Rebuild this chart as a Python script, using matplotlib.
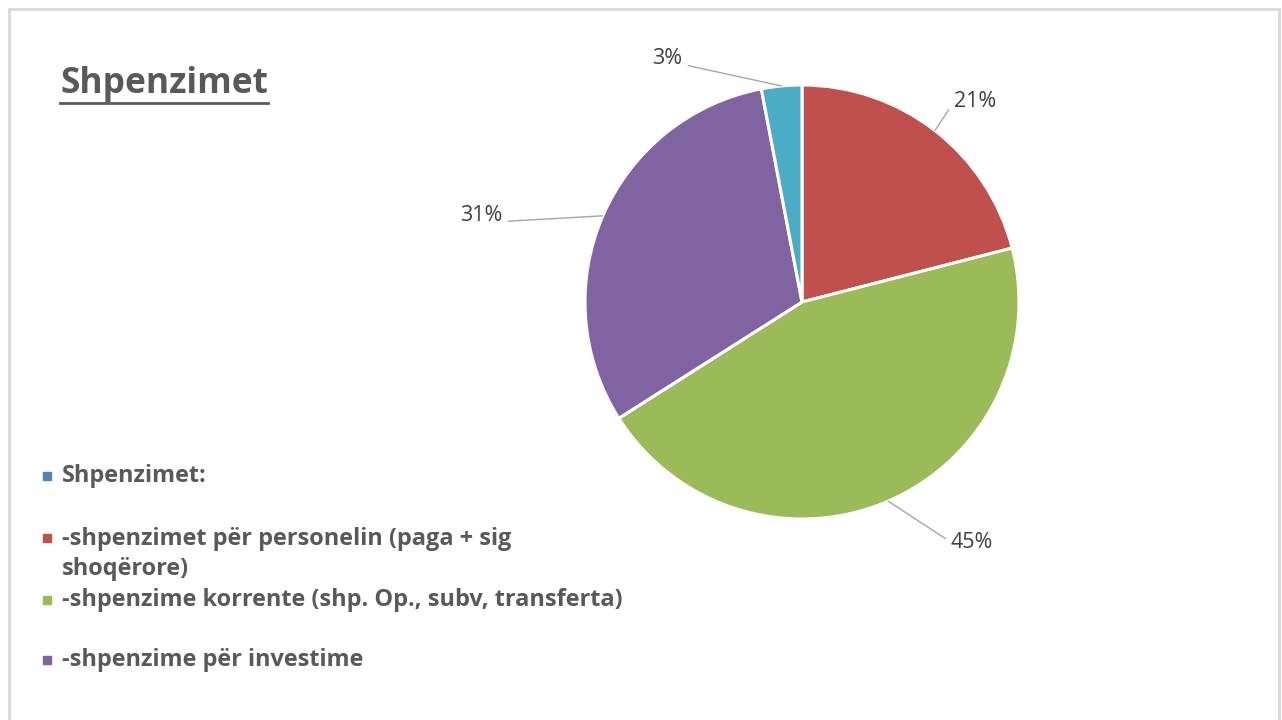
import numpy as np
import matplotlib.pyplot as plt
from matplotlib.patches import Rectangle

# data
categories = ["Shpenzimet:",
              "-shpenzimet për personelin (paga + sig\nshoqërore)",
              "-shpenzime korrente (shp. Op., subv, transferta)",
              "-shpenzime për investime",
              ""]
values = [0, 21, 45, 31, 3]
colors = ["#4F81BD", "#C0504D", "#9BBB59", "#8064A2", "#4BACC6"]
title = "Shpenzimet"

plt.rcParams['font.family'] = ['Open Sans', 'DejaVu Sans']

W, H = 1282, 720
fig = plt.figure(figsize=(W / 100, H / 100), dpi=100)

# light grey frame round the chart area
fig.patches.append(Rectangle((9 / W, -0.05), (1279 - 9) / W, (H - 9) / H + 0.05,
                             transform=fig.transFigure, fill=False,
                             edgecolor="#D9D9D9", linewidth=2))

# pie axes: pie spans x 585..1019, y 85..519 px
cx, cy, r = 802, 302, 217
ax = fig.add_axes([(cx - r) / W, (H - cy - r) / H, 2 * r / W, 2 * r / H])
wedges, _ = ax.pie(values[1:], colors=colors[1:], startangle=90, counterclock=False,
                   wedgeprops=dict(edgecolor="white", linewidth=2.2))
ax.set_xlim(-1, 1)
ax.set_ylim(-1, 1)
ax.set_aspect("equal")

# data labels with leader lines (text position in pie units)
label_pos = [(0.70, 0.922), (0.685, -1.106), (-1.38, 0.40), (-0.55, 1.124)]
label_ha = ["left", "left", "right", "right"]
for w, v, (tx, ty), ha in zip(wedges, values[1:], label_pos, label_ha):
    mid = np.deg2rad((w.theta1 + w.theta2) / 2)
    px, py = np.cos(mid), np.sin(mid)
    ang = np.degrees(np.arctan2(py - ty, px - tx))
    if abs(np.sin(np.deg2rad(ang))) < 0.3:
        conn = "arc3,rad=0"
    else:
        conn = f"angle,angleA=0,angleB={ang:.1f},rad=0"
    rel = (0, 0.2) if ha == "left" else (1, 0.2)
    ax.annotate(f"{v}%", xy=(px, py), xytext=(tx, ty), ha=ha, va="center",
                fontsize=15.5, color="#404040", annotation_clip=False,
                arrowprops=dict(arrowstyle="-", color="#A6A6A6", lw=1,
                                shrinkA=2, shrinkB=0, relpos=rel,
                                connectionstyle=conn))

# title
fig.text(60 / W, 1 - 84 / H, title, fontsize=25.5, fontweight="bold", color="#595959",
         ha="left", va="center")
fig.add_artist(plt.Line2D([60 / W, 268 / W], [1 - 103 / H, 1 - 103 / H],
                          color="#595959", lw=2))

# legend
leg_y = [476, 554, 600, 660]
for name, c, y in zip(categories[:4], colors[:4], leg_y):
    first_y = y if "\n" not in name else y - 16
    fig.patches.append(Rectangle((43 / W, 1 - (first_y + 4) / H), 8 / W, 8 / H,
                                 transform=fig.transFigure, color=c))
    fig.text(62 / W, 1 - y / H, name, fontsize=16.9, fontweight="bold", color="#595959",
             ha="left", va="center", linespacing=1.3)

fig.savefig("out.png", dpi=100, facecolor="white")
